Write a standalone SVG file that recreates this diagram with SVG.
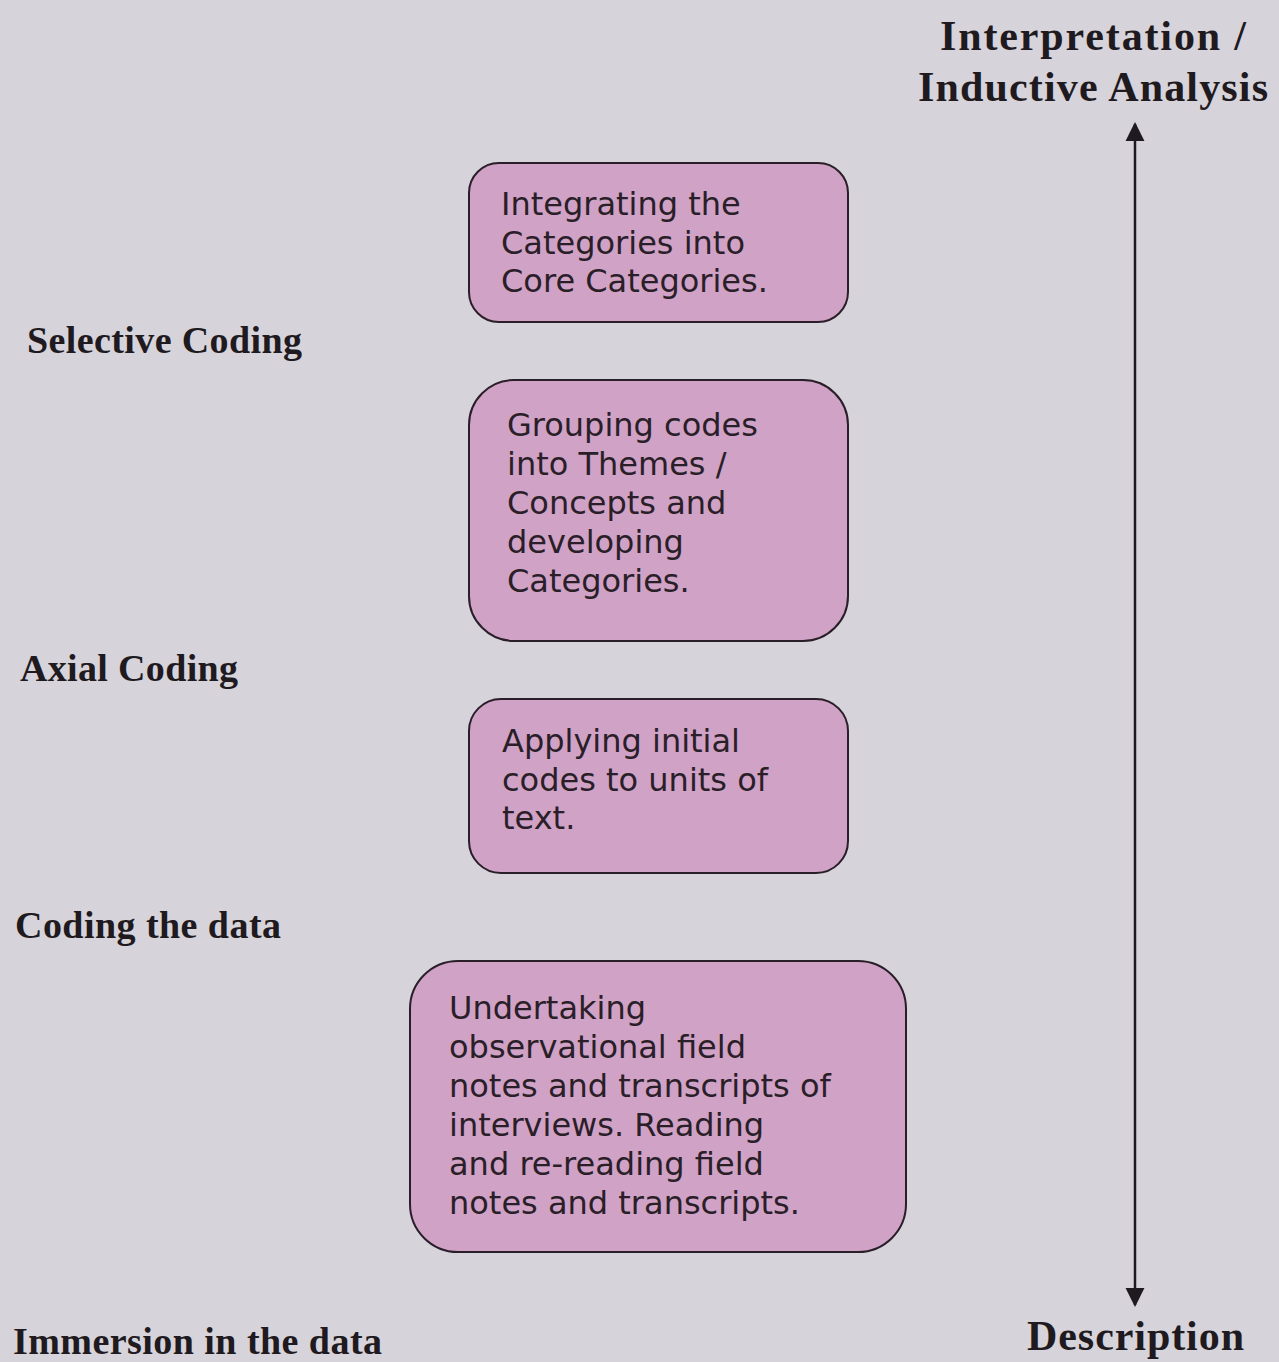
<svg xmlns="http://www.w3.org/2000/svg" width="1279" height="1362" viewBox="0 0 1279 1362">
<defs>
<style>
.bg{fill:#d6d3da}
.box{fill:#d0a2c6;stroke:#2a1e28;stroke-width:2}
.bt{font-family:"DejaVu Sans",Verdana,sans-serif;font-size:32px;fill:#2a1e28}
.lbl{font-family:"Liberation Serif","Times New Roman",serif;font-weight:bold;font-size:38px;fill:#1e1a20}
.big{font-size:42px}
.ax{stroke:#1e1a20;stroke-width:2.5;fill:none}
</style>
<marker id="ah" viewBox="0 0 10 10" refX="9" refY="5" markerWidth="19" markerHeight="20" markerUnits="userSpaceOnUse" orient="auto-start-reverse">
<path d="M0,0 L10,5 L0,10 Z" fill="#1e1a20"/>
</marker>
</defs>
<rect class="bg" x="0" y="0" width="1279" height="1362"/>
<g id="connectors">
<line class="ax" x1="1135" y1="124" x2="1135" y2="1305" marker-start="url(#ah)" marker-end="url(#ah)"/>
</g>
<g id="axis-labels">
<text class="lbl big" x="940" y="50" textLength="306">Interpretation  /</text>
<text class="lbl big" x="918" y="101" textLength="350">Inductive Analysis</text>
<text class="lbl big" x="1027" y="1350" textLength="217">Description</text>
</g>
<g id="stage-labels">
<text class="lbl" x="27" y="353" textLength="275">Selective Coding</text>
<text class="lbl" x="20" y="681" textLength="218">Axial Coding</text>
<text class="lbl" x="15" y="938" textLength="266">Coding the data</text>
<text class="lbl" x="13" y="1354" textLength="369">Immersion in the data</text>
</g>
<g id="node-selective">
<rect class="box" x="469" y="163" width="379" height="159" rx="30"/>
<text class="bt" x="501" y="215">Integrating the</text>
<text class="bt" x="501" y="254">Categories into</text>
<text class="bt" x="501" y="292">Core Categories.</text>
</g>
<g id="node-axial">
<rect class="box" x="469" y="380" width="379" height="261" rx="45"/>
<text class="bt" x="507" y="436">Grouping codes</text>
<text class="bt" x="507" y="475">into Themes /</text>
<text class="bt" x="507" y="514">Concepts and</text>
<text class="bt" x="507" y="553">developing</text>
<text class="bt" x="507" y="592">Categories.</text>
</g>
<g id="node-coding">
<rect class="box" x="469" y="699" width="379" height="174" rx="32"/>
<text class="bt" x="502" y="752">Applying initial</text>
<text class="bt" x="502" y="791">codes to units of</text>
<text class="bt" x="502" y="829">text.</text>
</g>
<g id="node-immersion">
<rect class="box" x="410" y="961" width="496" height="291" rx="48"/>
<text class="bt" x="449" y="1019">Undertaking</text>
<text class="bt" x="449" y="1058">observational field</text>
<text class="bt" x="449" y="1097">notes and transcripts of</text>
<text class="bt" x="449" y="1136">interviews. Reading</text>
<text class="bt" x="449" y="1175">and re-reading field</text>
<text class="bt" x="449" y="1214">notes and transcripts.</text>
</g>
</svg>
